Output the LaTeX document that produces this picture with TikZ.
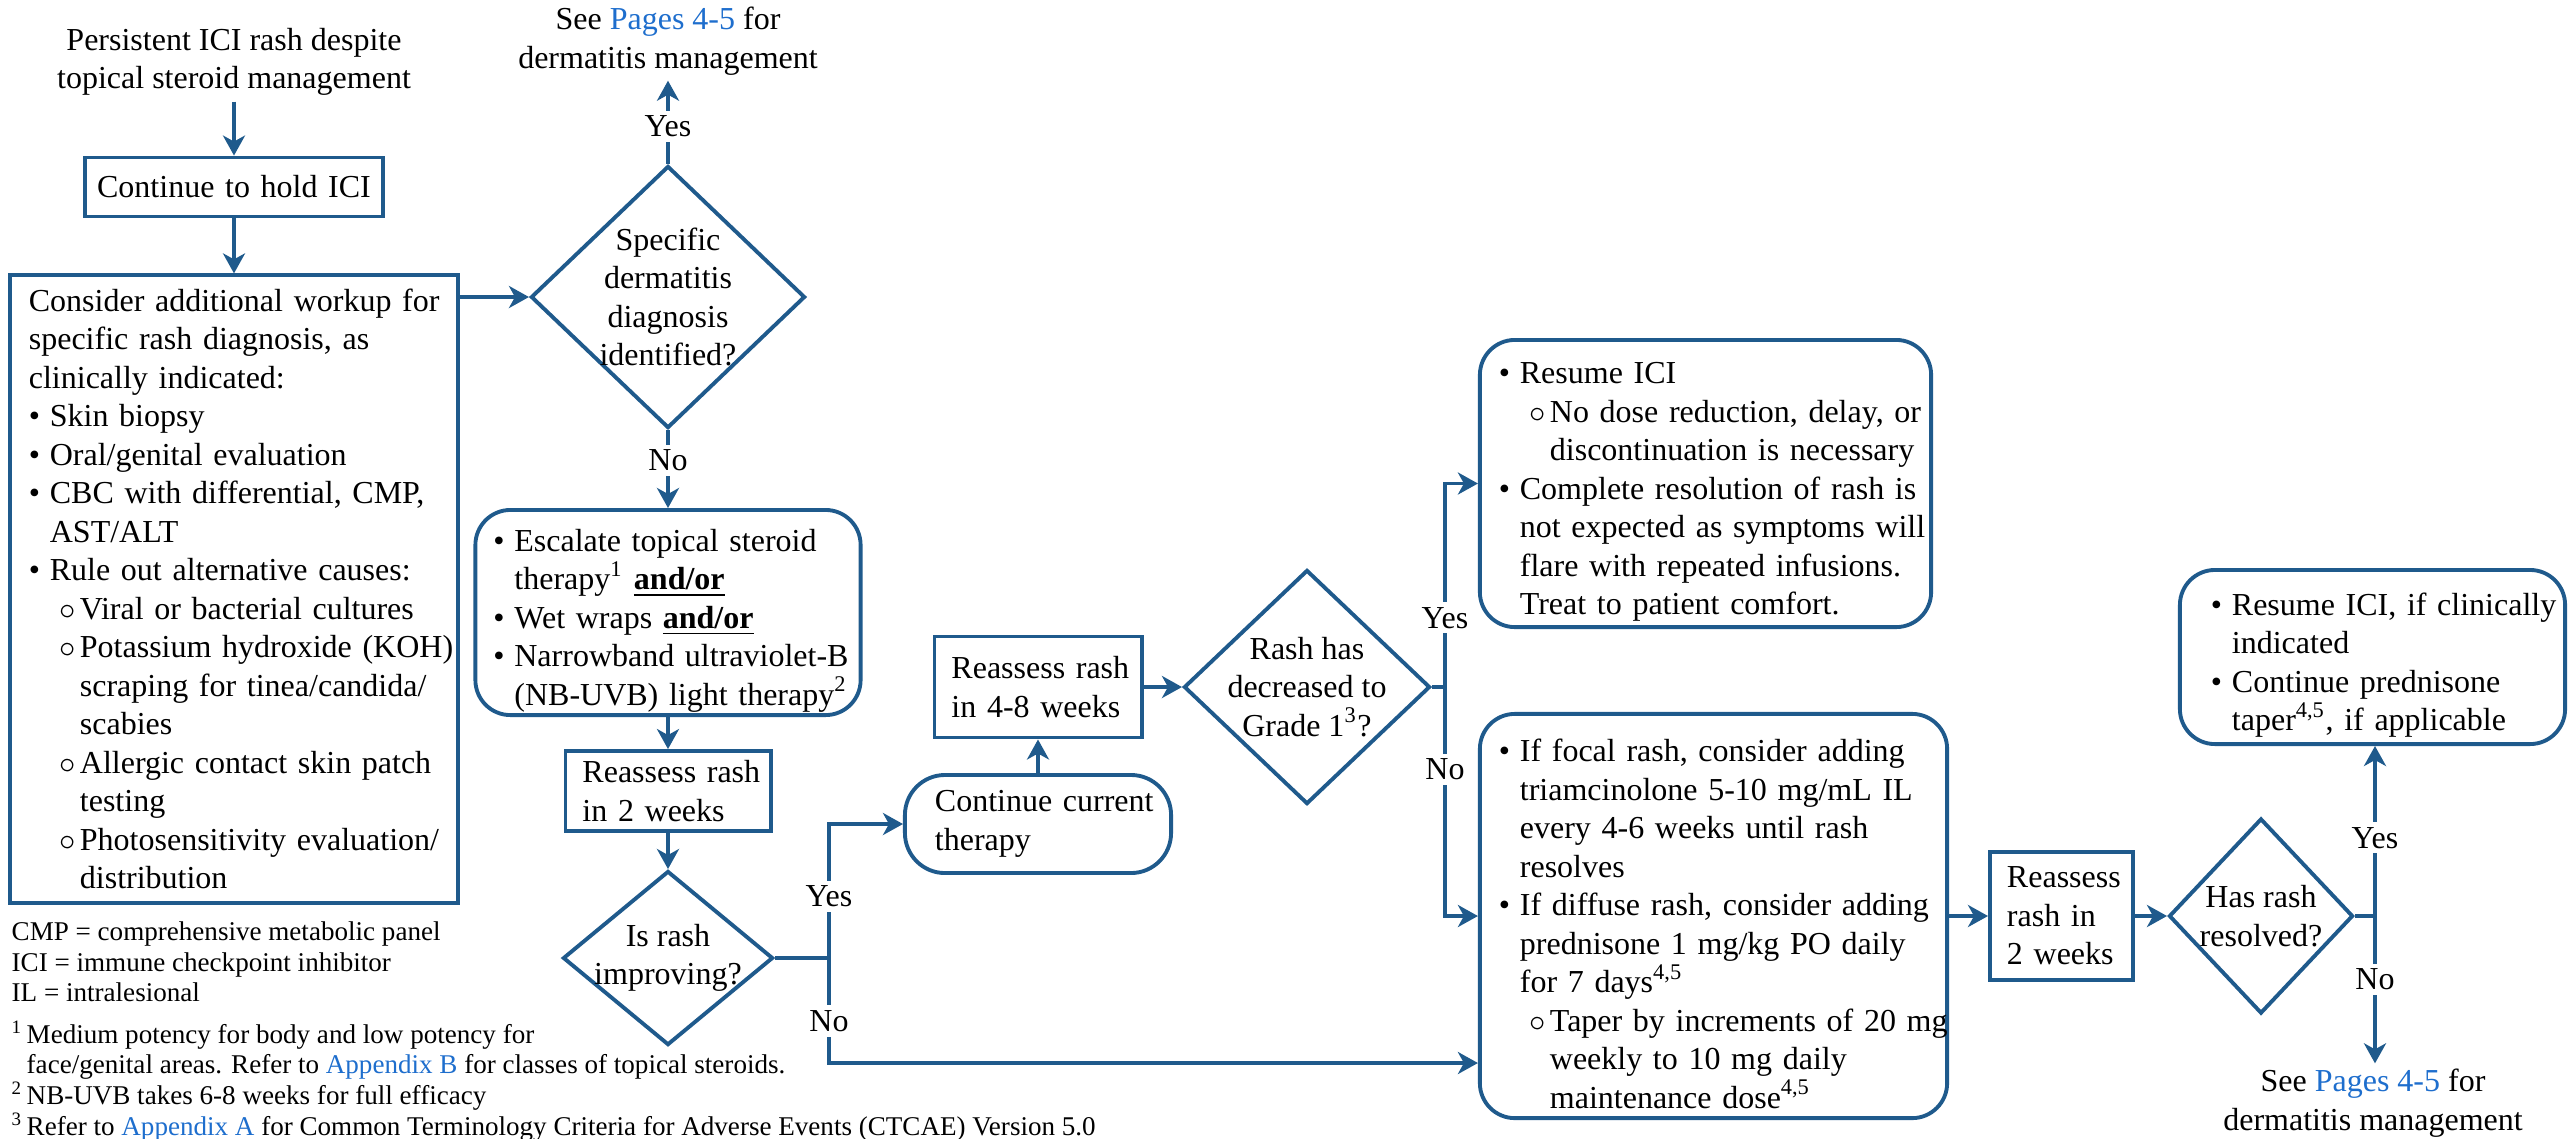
\documentclass[tikz,border=0pt]{standalone}
\usepackage{fontspec}
\setmainfont{Liberation Serif}
\usepackage{xcolor}
\usepackage{tikz}
\usetikzlibrary{shapes.geometric,arrows.meta}

\definecolor{lineblue}{RGB}{31,90,140}
\definecolor{linkblue}{RGB}{30,110,205}

\newlength{\bulw}\setlength{\bulw}{0.21cm}
\newlength{\subin}\setlength{\subin}{0.31cm}
\newlength{\subw}\setlength{\subw}{0.20cm}
\newcommand{\setpad}[1]{\leftskip=#1\relax\rightskip=-0.4cm plus 1fil\relax}
\newcommand{\bpt}{\par\noindent\hangindent=\bulw\hangafter=1\makebox[\bulw][l]{\textbullet}}
\newcommand{\spt}{\par\noindent\hangindent=\dimexpr\subin+\subw\relax\hangafter=1\hspace*{\subin}\makebox[\subw][l]{$\circ$}}
\newcommand{\andor}{\textbf{\underline{and/or}}}

\begin{document}
\begin{tikzpicture}[x=0.01cm, y=-0.01cm,
  font=\fontsize{9.1}{10.95}\selectfont,
  tbox/.style={draw=lineblue, line width=1.1pt, inner sep=0pt, align=left},
  rtbox/.style={tbox, rounded corners=0.35cm},
  decision/.style={diamond, draw=lineblue, line width=1.1pt, inner sep=-0.3cm, align=center},
  freetext/.style={align=center, inner sep=0.05cm},
  conn/.style={draw=lineblue, line width=1.1pt},
  flow/.style={conn, -{Stealth[length=0.2cm,width=0.22cm,inset=0.06cm]}},
  yn/.style={fill=white, inner xsep=0pt, inner ysep=0.05cm}]
\useasboundingbox (0,0) rectangle (2572,1138);

\node[freetext] (start) at (234,62) {Persistent ICI rash despite\\topical steroid management};
\node[tbox, align=center, text width=2.98cm, minimum height=0.59cm] (hold) at (234,187) {Continue to hold ICI};
\node[tbox, text width=4.48cm, minimum height=6.27cm] (workup) at (234,589) {\setpad{0.19cm}%
  Consider additional workup for\newline specific rash diagnosis, as\newline clinically indicated:
  \bpt Skin biopsy
  \bpt Oral/genital evaluation
  \bpt CBC with differential, CMP,\newline AST/ALT
  \bpt Rule out alternative causes:
  \spt Viral or bacterial cultures
  \spt Potassium hydroxide (KOH)\newline scraping for tinea/candida/\newline scabies
  \spt Allergic contact skin patch\newline testing
  \spt Photosensitivity evaluation/\newline distribution\par};

\node[decision, minimum width=2.74cm, minimum height=2.62cm] (diag) at (668,297) {Specific\\dermatitis\\diagnosis\\identified?};
\node[freetext] (seetop) at (668,41) {See \textcolor{linkblue}{Pages 4-5} for\\dermatitis management};
\node[rtbox, text width=3.85cm, minimum height=2.05cm] (escal) at (668,612.5) {\setpad{0.18cm}%
  \bpt Escalate topical steroid\newline therapy\textsuperscript{1} \andor
  \bpt Wet wraps \andor
  \bpt Narrowband ultraviolet-B\newline (NB-UVB) light therapy\textsuperscript{2}\par};
\node[tbox, text width=2.05cm, minimum height=0.80cm] (reas2) at (668,791) {\setpad{0.17cm}Reassess rash\\in 2 weeks\par};
\node[decision, minimum width=2.10cm, minimum height=1.74cm] (improve) at (668,958) {Is rash\\improving?};

\node[rtbox, rounded corners=0.4cm, text width=2.66cm, minimum height=0.98cm] (cont) at (1038,824) {\setpad{0.30cm}Continue current\\therapy\par};
\node[tbox, text width=2.07cm, minimum height=1.01cm] (reas48) at (1038,687) {\setpad{0.17cm}Reassess rash\\in 4-8 weeks\par};
\node[decision, minimum width=2.46cm, minimum height=2.34cm] (grade) at (1307,687) {Rash has\\decreased to\\Grade 1\textsuperscript{3}?};

\node[rtbox, text width=4.51cm, minimum height=2.87cm] (resume) at (1705.5,483.5) {\setpad{0.19cm}%
  \bpt Resume ICI
  \spt No dose reduction, delay, or\newline discontinuation is necessary
  \bpt Complete resolution of rash is\newline not expected as symptoms will\newline flare with repeated infusions.\newline Treat to patient comfort.\par};
\node[rtbox, text width=4.67cm, minimum height=4.04cm] (focal) at (1713.5,916) {\setpad{0.19cm}%
  \bpt If focal rash, consider adding\newline triamcinolone 5-10 mg/mL IL\newline every 4-6 weeks until rash\newline resolves
  \bpt If diffuse rash, consider adding\newline prednisone 1 mg/kg PO daily\newline for 7 days\textsuperscript{4,5}
  \spt Taper by increments of 20 mg\newline weekly to 10 mg daily\newline maintenance dose\textsuperscript{4,5}\par};
\node[tbox, text width=1.43cm, minimum height=1.28cm] (reasR) at (2061.5,916) {\setpad{0.17cm}Reassess\\rash in\\2 weeks\par};
\node[decision, minimum width=1.84cm, minimum height=1.95cm] (resolved) at (2261,916) {Has rash\\resolved?};
\node[rtbox, text width=3.85cm, minimum height=1.74cm] (resumeR) at (2372.5,657) {\setpad{0.31cm}%
  \bpt Resume ICI, if clinically\newline indicated
  \bpt Continue prednisone\newline taper\textsuperscript{4,5}, if applicable\par};
\node[freetext] (seebot) at (2373,1103) {See \textcolor{linkblue}{Pages 4-5} for\\dermatitis management};

\node[align=left, inner sep=0pt, anchor=north west, font=\fontsize{7.7}{8.7}\selectfont] (legend) at (11,921) {%
  CMP = comprehensive metabolic panel\\
  ICI = immune checkpoint inhibitor\\
  IL = intralesional\\[0.11cm]
  \makebox[0.15cm][l]{\textsuperscript{1}}Medium potency for body and low potency for\\
  \hspace*{0.15cm}face/genital areas. Refer to \textcolor{linkblue}{Appendix B} for classes of topical steroids.\\
  \makebox[0.15cm][l]{\textsuperscript{2}}NB-UVB takes 6-8 weeks for full efficacy\\
  \makebox[0.15cm][l]{\textsuperscript{3}}Refer to \textcolor{linkblue}{Appendix A} for Common Terminology Criteria for Adverse Events (CTCAE) Version 5.0};

\draw[flow] (start) -- (hold);
\draw[flow] (hold) -- (workup);
\draw[flow] (workup.east |- diag.west) -- (diag.west);
\draw[flow] (diag) -- node[yn, pos=0.45]{Yes} (seetop);
\draw[flow] (diag) -- node[yn, pos=0.39]{No} (escal);
\draw[flow] (escal) -- (reas2);
\draw[flow] (reas2) -- (improve);
\draw[conn] (improve.east) -- ++(54,0) coordinate (b2);
\draw[flow] (b2) |- node[yn, pos=0.23]{Yes} (cont.west);
\draw[flow] (b2) |- node[yn, pos=0.3]{No} (focal.west |- 0,1063);
\draw[flow] (cont) -- (reas48);
\draw[flow] (reas48) -- (grade);
\draw[conn] (grade.east) -- ++(13,0) coordinate (b3);
\draw[flow] (b3) |- node[yn, pos=0.17]{Yes} (resume.west);
\draw[flow] (b3) |- node[yn, pos=0.18]{No} (focal.west);
\draw[flow] (focal) -- (reasR);
\draw[flow] (reasR) -- (resolved);
\draw[conn] (resolved.east) -- ++(20,0) coordinate (b4);
\draw[flow] (b4) -- node[yn, pos=0.46]{Yes} (b4 |- resumeR.south);
\draw[flow] (b4) -- node[yn, pos=0.43]{No} (b4 |- seebot.north);
\end{tikzpicture}
\end{document}
